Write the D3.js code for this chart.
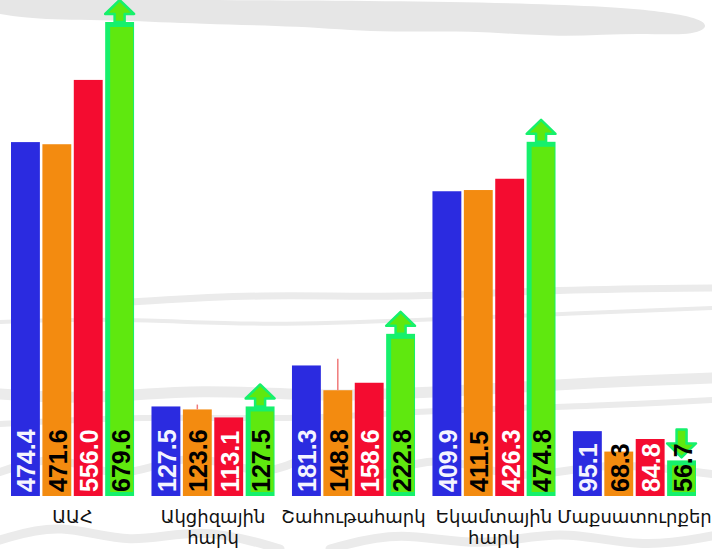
<!DOCTYPE html>
<html>
<head>
<meta charset="utf-8">
<script src="https://cdn.jsdelivr.net/npm/d3@7"></script>
<style>
  body { margin: 0; background: #fff; }
  .cat-label { font-family: "DejaVu Sans", sans-serif; font-size: 18px; fill: #111; }
  .val-label { font-family: "Liberation Sans", Arial, sans-serif; font-size: 25px; font-weight: bold; }
</style>
</head>
<body>
<div id="chart"></div>
<script>
const categories = ['ԱԱՀ', 'Ակցիզային հարկ', 'Շահութահարկ', 'Եկամտային հարկ', 'Մաքսատուրքեր'];
const series = ['s1', 's2', 's3', 's4'];
const s1Values = [474.4, 127.5, 181.3, 409.9, 95.1];
const s2Values = [471.6, 123.6, 148.8, 411.5, 68.3];
const s3Values = [556.0, 113.1, 158.6, 426.3, 84.8];
const s4Values = [679.6, 127.5, 222.8, 474.8, 56.7];
// thin red marks above the orange bars
const s2Marks = [null, 130, 190, null, null];

const colors = ['#2b2be0', '#f38b10', '#f40c30', '#5fe80f'];
const labelColors = ['#f4f4ff', '#000', '#fff', '#000'];
const brightGreen = '#16f06c';

const width = 712;
const height = 549;
const baseY = 496;

const svg = d3.select('#chart')
    .append('svg')
    .attr('width', width)
    .attr('height', height);

// faint brush-stroke background
const bg = svg.append('g').attr('class', 'bg');
const brush = d3.line().curve(d3.curveBasis);
bg.append('path')
    .attr('d', brush([[0, 0], [712, 0], [712, 38], [640, 32], [560, 38], [470, 30], [380, 33], [300, 26], [200, 24], [120, 20], [40, 20], [0, 14]]) + 'Z')
    .attr('fill', '#e6e6e6');
const strokes = [
  { pts: [[130, 302], [260, 294], [400, 298], [540, 290], [712, 288]], w: 7 },
  { pts: [[0, 322], [120, 318], [260, 326], [420, 320], [560, 314], [712, 308]], w: 4 },
  { pts: [[0, 394], [90, 400], [200, 388], [330, 398], [470, 390], [600, 382], [712, 378]], w: 11 },
  { pts: [[0, 424], [140, 416], [300, 420], [430, 410], [600, 406], [712, 400]], w: 6 },
  { pts: [[0, 472], [60, 452], [120, 484], [190, 448], [260, 478], [300, 460]], w: 8 },
  { pts: [[380, 476], [440, 452], [520, 484], [600, 460], [712, 474]], w: 8 },
  { pts: [[0, 540], [60, 522], [130, 546], [200, 526], [280, 549]], w: 9 },
  { pts: [[330, 549], [400, 530], [480, 549], [560, 528], [640, 549], [712, 536]], w: 9 }
];
bg.selectAll('.stroke')
    .data(strokes)
    .enter()
    .append('path')
    .attr('d', d => brush(d.pts))
    .attr('fill', 'none')
    .attr('stroke', '#ebebeb')
    .attr('stroke-width', d => d.w)
    .attr('stroke-linecap', 'round');

// scales
const x0 = d3.scaleBand()
    .domain(categories)
    .range([11, 696])
    .paddingInner(0.124)
    .paddingOuter(0);
const x1 = d3.scaleBand()
    .domain(series)
    .range([0, x0.bandwidth()])
    .paddingInner(0.08);
const y = d3.scaleLinear()
    .domain([10, 632])
    .range([baseY, 22])
    .clamp(true);

const rows = categories.map((c, i) => ({
  cat: c,
  vals: [s1Values[i], s2Values[i], s3Values[i], s4Values[i]],
  mark: s2Marks[i]
}));

const groups = svg.selectAll('.group')
    .data(rows)
    .enter()
    .append('g')
    .attr('class', 'group')
    .attr('transform', d => `translate(${x0(d.cat)},0)`);

const bw = x1.bandwidth();

groups.each(function(d) {
  const g = d3.select(this);
  d.vals.forEach((v, j) => {
    const bx = x1(series[j]);
    const top = y(v);
    const h = baseY - top;
    if (j === 3) {
      g.append('rect')
          .attr('x', bx).attr('y', top)
          .attr('width', bw).attr('height', h)
          .attr('fill', brightGreen);
      g.append('rect')
          .attr('x', bx + 5).attr('y', top + 5)
          .attr('width', bw - 6).attr('height', Math.max(0, h - 9))
          .attr('fill', colors[3]);
      // arrow: up if above previous series, down otherwise
      const cx = bx + bw / 2;
      const up = v > d.vals[2];
      const hw = bw / 2, sw = 5;
      let pts;
      if (up) {
        pts = [[-sw, 0], [-sw, -8], [-hw, -8], [0, -22], [hw, -8], [sw, -8], [sw, 0]]
            .map(p => [cx + p[0], top + p[1]]);
      } else {
        const tip = top - 3;
        pts = [[-sw, -28], [-sw, -14], [-hw, -14], [0, 0], [hw, -14], [sw, -14], [sw, -28]]
            .map(p => [cx + p[0], tip + p[1]]);
      }
      g.append('path')
          .attr('d', d3.line()(pts) + 'Z')
          .attr('fill', colors[3])
          .attr('stroke', brightGreen)
          .attr('stroke-width', 2.5)
          .attr('stroke-linejoin', 'round');
    } else {
      g.append('rect')
          .attr('x', bx).attr('y', top)
          .attr('width', bw).attr('height', h)
          .attr('fill', colors[j]);
    }
    if (j === 1 && d.mark != null) {
      g.append('line')
          .attr('x1', bx + bw / 2).attr('x2', bx + bw / 2)
          .attr('y1', top).attr('y2', y(d.mark))
          .attr('stroke', '#f07a7a')
          .attr('stroke-width', 1.5);
    }
    g.append('text')
        .attr('class', 'val-label')
        .attr('transform', `translate(${bx + bw / 2 + 1},${baseY - 4}) rotate(-90)`)
        .attr('dy', '0.36em')
        .attr('fill', labelColors[j])
        .text(v.toFixed(1));
  });
});

// category labels, wrapped on spaces
const labels = svg.selectAll('.cat-label')
    .data(categories)
    .enter()
    .append('text')
    .attr('class', 'cat-label')
    .attr('text-anchor', 'middle')
    .attr('x', d => x0(d) + x0.bandwidth() / 2)
    .attr('y', 523);

labels.each(function(d) {
  const t = d3.select(this);
  d.split(' ').forEach((w, k) => {
    t.append('tspan')
        .attr('x', t.attr('x'))
        .attr('dy', k === 0 ? 0 : 21)
        .text(w);
  });
});
</script>
</body>
</html>
